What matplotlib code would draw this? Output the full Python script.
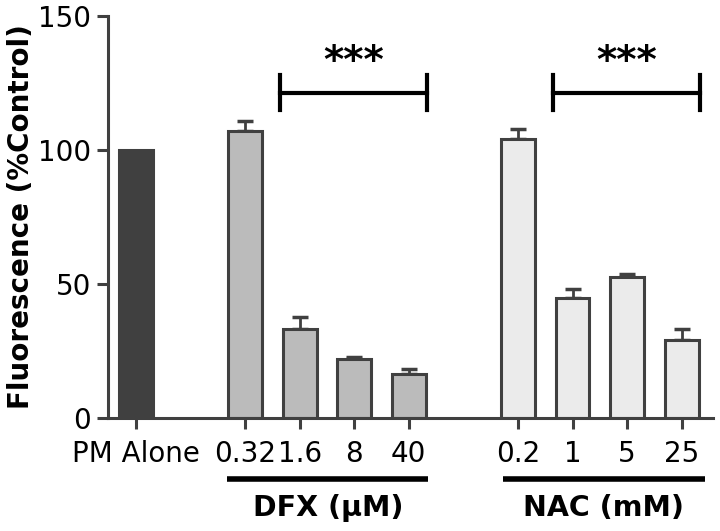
import numpy as np
import matplotlib.pyplot as plt

plt.rcParams['font.family'] = ['DejaVu Sans']

# Data
labels = ['PM Alone', '0.32', '1.6', '8', '40', '0.2', '1', '5', '25']
positions = [0, 2, 3, 4, 5, 7, 8, 9, 10]
values = [100, 107.2, 33.3, 22.1, 16.4, 104.1, 44.8, 52.8, 29.2]
errors = [0, 3.8, 4.3, 0.5, 1.8, 3.8, 3.3, 1.0, 4.0]
colors = ['#404040'] + ['#bbbbbb'] * 4 + ['#ebebeb'] * 4

edge = '#404040'

fig = plt.figure(figsize=(7.2, 5.31), dpi=100)
ax = fig.add_axes([0.15, 0.2128, 0.84, 0.757])

ax.bar(positions, values, width=0.62, color=colors, edgecolor=edge,
       linewidth=2.2, zorder=2)
ax.errorbar(positions[1:], values[1:], yerr=[np.zeros(8), errors[1:]],
            fmt='none', ecolor=edge, elinewidth=2, capsize=6, capthick=2.5,
            zorder=1)

ax.set_xlim(-0.51, 10.57)
ax.set_ylim(0, 150)
ax.set_yticks([0, 50, 100, 150])
ax.set_xticks(positions)
ax.set_xticklabels(labels)
ax.tick_params(axis='both', labelsize=20, width=2.2, length=8, color=edge)
ax.tick_params(axis='x', pad=8)
ax.tick_params(axis='y', pad=4)

for s in ['top', 'right']:
    ax.spines[s].set_visible(False)
for s in ['left', 'bottom']:
    ax.spines[s].set_linewidth(2.2)
    ax.spines[s].set_color(edge)

ax.set_ylabel('Fluorescence (%Control)', fontsize=20, fontweight='bold', labelpad=2)

# significance brackets
for x0, x1 in [(2.65, 5.33), (7.64, 10.33)]:
    ax.plot([x0, x1], [121.2, 121.2], color='black', lw=3, clip_on=False)
    ax.plot([x0, x0], [115, 128], color='black', lw=3, clip_on=False)
    ax.plot([x1, x1], [115, 128], color='black', lw=3, clip_on=False)
    ax.text((x0 + x1) / 2, 133, '***', ha='center', va='center',
            fontsize=28, fontweight='bold')

# group underlines and labels
trans = ax.get_xaxis_transform()
for x0, x1, xc, name in [(1.67, 5.35, 3.52, 'DFX (\u03bcM)'),
                         (6.72, 10.42, 8.57, 'NAC (mM)')]:
    ax.plot([x0, x1], [-0.152, -0.152], color='black', lw=4, transform=trans,
            clip_on=False, solid_capstyle='butt')
    ax.text(xc, -0.225, name, transform=trans, ha='center', va='center',
            fontsize=20.5, fontweight='bold')

fig.savefig('out.png', dpi=100)
